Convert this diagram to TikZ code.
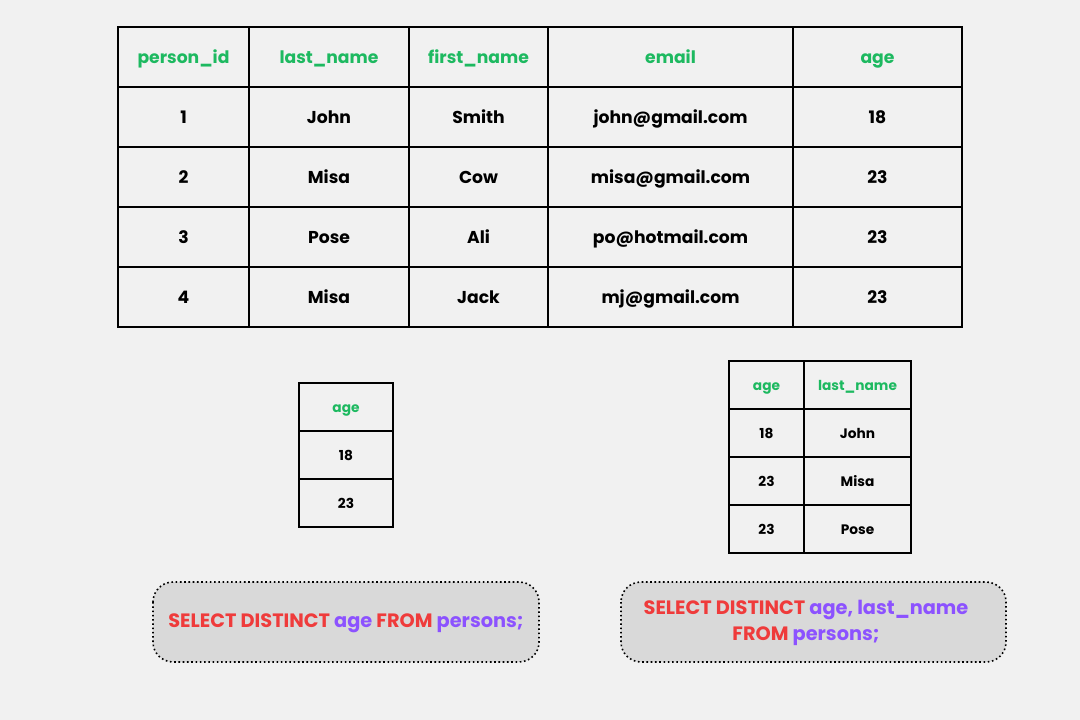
\documentclass[tikz,border=0pt]{standalone}
\usepackage{fontspec}
\setmainfont{Poppins}
\definecolor{bg}{HTML}{F1F1F1}
\definecolor{hdr}{HTML}{1DB960}
\definecolor{kw}{HTML}{EF3B3B}
\definecolor{idf}{HTML}{8C52FF}
\definecolor{boxfill}{HTML}{D9D9D9}
\begin{document}
\begin{tikzpicture}[x=0.75pt,y=-0.75pt,
  bigt/.style={font=\fontsize{12.9}{14}\selectfont\bfseries,text height=0.72em,text depth=0.2em,inner sep=0pt},
  bighd/.style={bigt,text=hdr},
  smt/.style={font=\fontsize{10.3}{12}\selectfont\bfseries,text height=0.72em,text depth=0.2em,inner sep=0pt},
  smhd/.style={smt,text=hdr},
  grid/.style={line width=1.8pt,black},
  sgrid/.style={line width=1.4pt,black},
  qbox/.style={draw,dotted,line width=1.2pt,fill=boxfill,rounded corners=15pt},
  qtext/.style={font=\fontsize{14.5}{19.5}\selectfont\bfseries,align=center}]
\fill[bg] (0,0) rectangle (1080,720);
\useasboundingbox (0,0) rectangle (1080,720);
% main table
\draw[grid] (118,27) rectangle (962,327);
\foreach \x in {249,409,548,793} \draw[grid] (\x,27) -- (\x,327);
\foreach \y in {87,147,207,267} \draw[grid] (118,\y) -- (962,\y);
\node[bighd] (h1) at (183.5,60) {person\_id};
\node[bighd] (h2) at (329,60) {last\_name};
\node[bighd] (h3) at (478.5,60) {first\_name};
\node[bighd] (h4) at (670.5,60) {email};
\node[bighd] (h5) at (877.5,60) {age};
\node[bigt] (a1) at (183.5,120) {1};
\node[bigt] (a2) at (329,120) {John};
\node[bigt] (a3) at (478.5,120) {Smith};
\node[bigt] (a4) at (670.5,120) {john@gmail.com};
\node[bigt] (a5) at (877.5,120) {18};
\node[bigt] (b1) at (183.5,180) {2};
\node[bigt] (b2) at (329,180) {Misa};
\node[bigt] (b3) at (478.5,180) {Cow};
\node[bigt] (b4) at (670.5,180) {misa@gmail.com};
\node[bigt] (b5) at (877.5,180) {23};
\node[bigt] (c1) at (183.5,240) {3};
\node[bigt] (c2) at (329,240) {Pose};
\node[bigt] (c3) at (478.5,240) {Ali};
\node[bigt] (c4) at (670.5,240) {po@hotmail.com};
\node[bigt] (c5) at (877.5,240) {23};
\node[bigt] (d1) at (183.5,300) {4};
\node[bigt] (d2) at (329,300) {Misa};
\node[bigt] (d3) at (478.5,300) {Jack};
\node[bigt] (d4) at (670.5,300) {mj@gmail.com};
\node[bigt] (d5) at (877.5,300) {23};
% small table 1
\draw[sgrid] (299,383) rectangle (393,527);
\foreach \y in {431,479} \draw[sgrid] (299,\y) -- (393,\y);
\node[smhd] (s1h) at (346,409) {age};
\node[smt] (s1a) at (346,457) {18};
\node[smt] (s1b) at (346,505) {23};
% small table 2
\draw[sgrid] (729,361) rectangle (911,553);
\draw[sgrid] (804,361) -- (804,553);
\foreach \y in {409,457,505} \draw[sgrid] (729,\y) -- (911,\y);
\node[smhd] (t1h) at (766.5,387) {age};
\node[smhd] (t2h) at (857.5,387) {last\_name};
\node[smt] (t1a) at (766.5,435) {18};
\node[smt] (t2a) at (857.5,435) {John};
\node[smt] (t1b) at (766.5,483) {23};
\node[smt] (t2b) at (857.5,483) {Misa};
\node[smt] (t1c) at (766.5,531) {23};
\node[smt] (t2c) at (857.5,531) {Pose};
% query boxes
\draw[qbox] (153,582) rectangle (539,662);
\node[qtext] (q1) at (346,623) {\textcolor{kw}{SELECT DISTINCT} \textcolor{idf}{age} \textcolor{kw}{FROM} \textcolor{idf}{persons;}};
\draw[qbox] (621,582) rectangle (1006,662);
\node[qtext] (q2) at (806,623) {\textcolor{kw}{SELECT DISTINCT} \textcolor{idf}{age, last\_name}\\\textcolor{kw}{FROM} \textcolor{idf}{persons;}};
\end{tikzpicture}
\end{document}
